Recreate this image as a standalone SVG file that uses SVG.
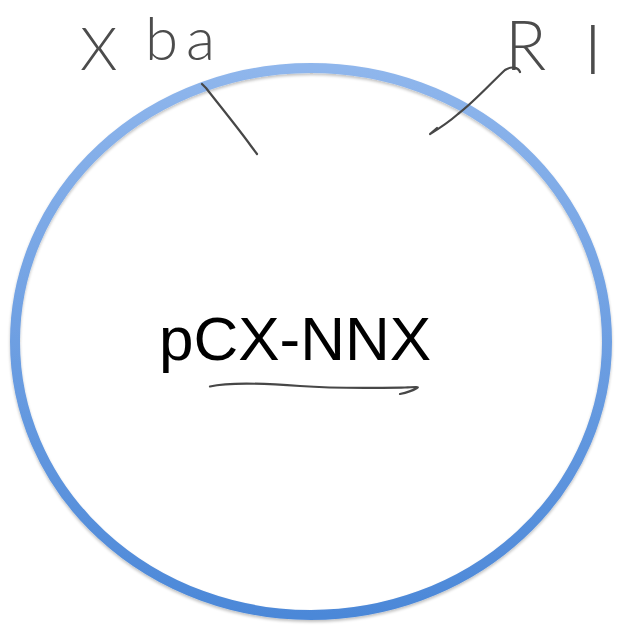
<svg xmlns="http://www.w3.org/2000/svg" width="625" height="629" viewBox="0 0 625 629">
  <defs>
    <linearGradient id="ring" x1="0" y1="0" x2="0" y2="1">
      <stop offset="0" stop-color="#8fb6ec"/>
      <stop offset="1" stop-color="#4c88d8"/>
    </linearGradient>
    <filter id="soft" x="-5%" y="-5%" width="110%" height="110%">
      <feGaussianBlur in="SourceAlpha" stdDeviation="1.5"/>
      <feOffset dx="0" dy="2" result="b"/>
      <feComponentTransfer><feFuncA type="linear" slope="0.25"/></feComponentTransfer>
      <feMerge><feMergeNode/><feMergeNode in="SourceGraphic"/></feMerge>
    </filter>
  </defs>
  <style>
    .ink { fill: none; stroke: #474747; stroke-width: 2.2; stroke-linecap: round; stroke-linejoin: round; }
    .hand { font-family: Lato, "Open Sans", "Liberation Sans", sans-serif; font-weight: 300; fill: #4c4c4c; }
    .label { font-family: "Liberation Sans", Arial, sans-serif; fill: #000000; }
  </style>
  <rect width="625" height="629" fill="#ffffff"/>

  <g id="plasmid">
    <ellipse cx="311" cy="341.5" rx="296" ry="273.5" fill="none" stroke="url(#ring)" stroke-width="10" filter="url(#soft)"/>
    <text class="label" x="295" y="360" font-size="62" text-anchor="middle">pCX-NNX</text>
    <path class="ink" d="M210,386.5 C225,383 260,383 300,386 C340,389 380,388 405,387.5 C414,387 420,386.5 417,388 C412,391 405,393 400,394"/>
  </g>

  <g id="xba">
    <text class="hand" font-size="60" x="80" y="70">X</text>
    <text class="hand" font-size="60" x="145" y="60" letter-spacing="8">ba</text>
  </g>

  <g id="ri">
    <text class="hand" font-size="68"><tspan x="505" y="70">R</tspan><tspan x="584" y="74">I</tspan></text>
  </g>

  <g id="connectors">
    <path class="ink" d="M202,84 L206,88 C220,106 238,128 251,146 L257,154"/>
    <path class="ink" d="M520,72 C518,67 511,66 505,70 C492,82 474,102 458,114 C450,121 440,128 430,134 L437,128"/>
  </g>
</svg>
